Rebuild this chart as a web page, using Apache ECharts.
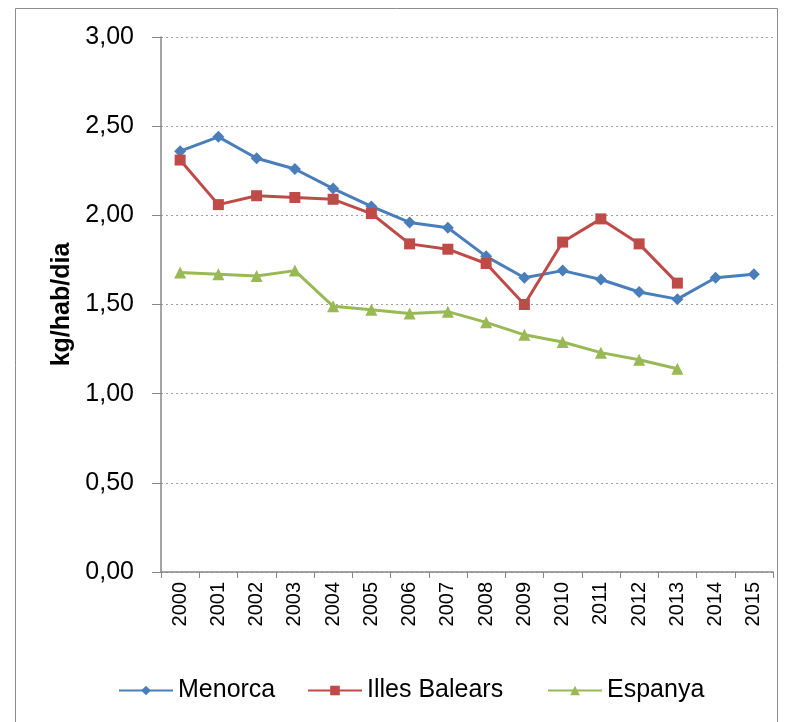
<!DOCTYPE html>
<html>
<head>
<meta charset="utf-8">
<script src="https://cdn.jsdelivr.net/npm/echarts@6/dist/echarts.min.js"></script>
<style>
  html, body { margin: 0; padding: 0; background: #fff; }
  #grafic { width: 787px; height: 722px; }
</style>
</head>
<body>
<div id="grafic"></div>
<script>
var anys = ['2000', '2001', '2002', '2003', '2004', '2005', '2006', '2007',
            '2008', '2009', '2010', '2011', '2012', '2013', '2014', '2015'];

var menorca = [2.36, 2.44, 2.32, 2.26, 2.15, 2.05, 1.96, 1.93,
               1.77, 1.65, 1.69, 1.64, 1.57, 1.53, 1.65, 1.67];
var illesBalears = [2.31, 2.06, 2.11, 2.10, 2.09, 2.01, 1.84, 1.81,
                    1.73, 1.50, 1.85, 1.98, 1.84, 1.62];
var espanya = [1.68, 1.67, 1.66, 1.69, 1.49, 1.47, 1.45, 1.46,
               1.40, 1.33, 1.29, 1.23, 1.19, 1.14];

// llegenda: posició esquerra de cada element
var series_def = [
    { nom: 'Menorca', color: '#4A7EBB', simbol: 'diamond', mida: 12, dades: menorca, llegEsq: 113 },
    { nom: 'Illes Balears', color: '#BE4B48', simbol: 'rect', mida: 11, dades: illesBalears, llegEsq: 302 },
    { nom: 'Espanya', color: '#98B954', simbol: 'triangle', mida: 12, dades: espanya, llegEsq: 542 }
];

var grafic = echarts.init(document.getElementById('grafic'));

var option = {
    animation: false,
    textStyle: { fontFamily: 'Liberation Sans, Arial, sans-serif' },
    graphic: [{
        type: 'rect',
        shape: { x: 15.5, y: 8.5, width: 762, height: 730 },
        style: { fill: 'none', stroke: '#8c8c8c', lineWidth: 1 },
        silent: true
    }],
    grid: { left: 161, right: 14, top: 37, bottom: 150 },
    xAxis: {
        type: 'category',
        data: anys,
        boundaryGap: true,
        axisLine: { lineStyle: { color: '#868686', width: 1.5 } },
        axisTick: { show: true, length: 6, alignWithLabel: false, lineStyle: { color: '#868686' } },
        axisLabel: { rotate: 90, color: '#000', fontSize: 20, margin: 10, interval: 0 }
    },
    yAxis: {
        type: 'value',
        min: 0,
        max: 3,
        interval: 0.5,
        name: 'kg/hab/dia',
        nameLocation: 'middle',
        nameGap: 84,
        nameRotate: 90,
        nameTextStyle: { color: '#000', fontSize: 25, fontWeight: 'bold' },
        axisLine: { show: true, lineStyle: { color: '#868686', width: 1.5 } },
        axisTick: { show: true, length: 9, lineStyle: { color: '#868686' } },
        axisLabel: {
            color: '#000', fontSize: 25, margin: 27,
            formatter: function (v) { return v.toFixed(2).replace('.', ','); }
        },
        splitLine: { lineStyle: { color: '#a0a0a0', type: [2, 3], width: 1 } }
    },
    legend: series_def.map(function (s) {
        return {
            top: 673,
            left: s.llegEsq,
            itemWidth: 54,
            itemHeight: 12,
            textStyle: { color: '#000', fontSize: 25 },
            data: [s.nom]
        };
    }),
    series: series_def.map(function (s) {
        return {
            name: s.nom,
            type: 'line',
            data: s.dades,
            symbol: s.simbol,
            symbolSize: s.mida,
            showAllSymbol: true,
            itemStyle: { color: s.color },
            lineStyle: { color: s.color, width: 3 }
        };
    })
};

grafic.setOption(option);
</script>
</body>
</html>
